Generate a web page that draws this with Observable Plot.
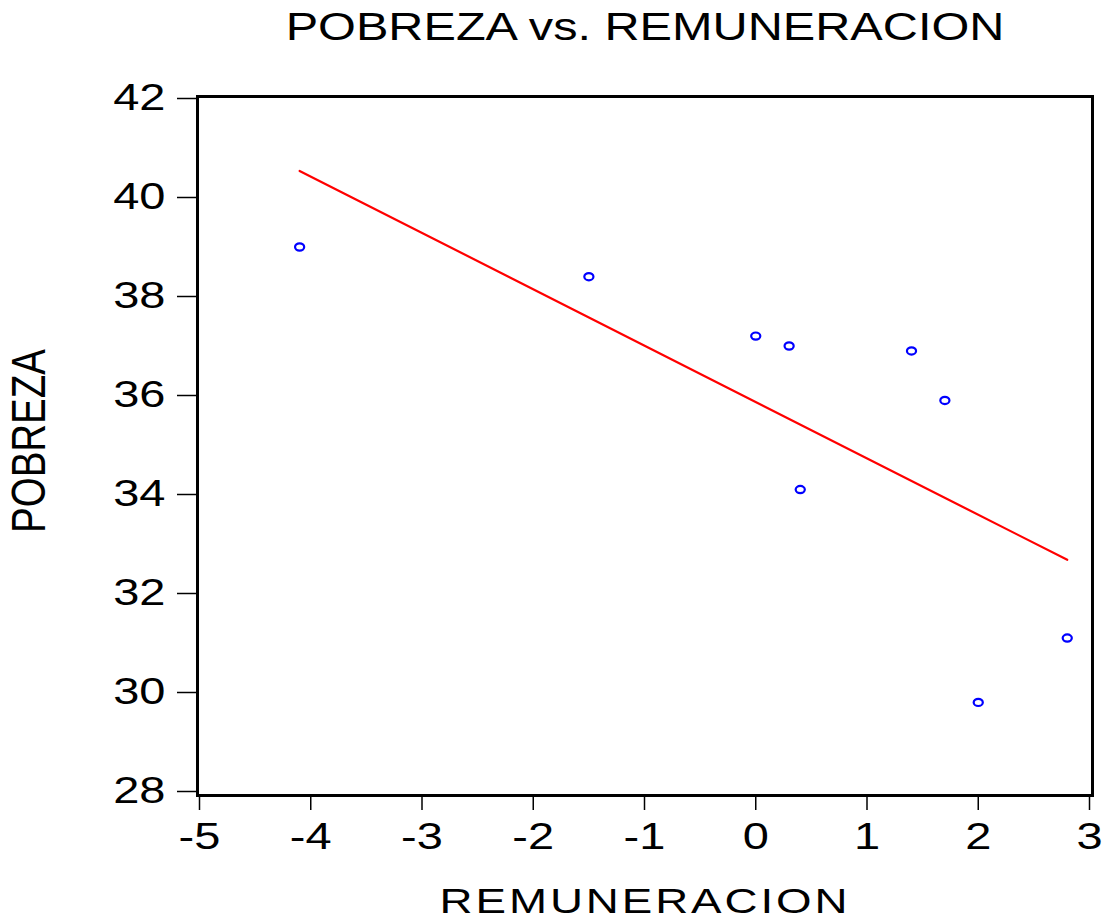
<!DOCTYPE html>
<html><head><meta charset="utf-8">
<script src="https://cdn.jsdelivr.net/npm/d3@7"></script>
<script src="https://cdn.jsdelivr.net/npm/@observablehq/plot@0.6"></script>
<style>body{margin:0;background:#fff} svg{display:block}</style>
</head><body><div id="chart"></div>
<script>
const remuneracion = [-4.1, -1.5, 0.0, 0.3, 0.4, 1.4, 1.7, 2.0, 2.8];
const pobreza = [39.0, 38.4, 37.2, 37.0, 34.1, 36.9, 35.9, 29.8, 31.1];
const xTicks = [-5, -4, -3, -2, -1, 0, 1, 2, 3];
const yTicks = [28, 30, 32, 34, 36, 38, 40, 42];
const titleText = "POBREZA vs. REMUNERACION";
const xLabel = "REMUNERACION";
const yLabel = "POBREZA";

const data = remuneracion.map((x, i) => ({x, y: pobreza[i]}));
const SX = 1.27;
const FONT = "'Liberation Sans', Arial, sans-serif";

// ellipse symbol (the reference is horizontally stretched)
const ellipse = {
  draw(context, size) {
    const r = Math.sqrt(size / Math.PI), rx = r * SX, ry = r, k = 0.5523;
    context.moveTo(rx, 0);
    context.bezierCurveTo(rx, k * ry, k * rx, ry, 0, ry);
    context.bezierCurveTo(-k * rx, ry, -rx, k * ry, -rx, 0);
    context.bezierCurveTo(-rx, -k * ry, -k * rx, -ry, 0, -ry);
    context.bezierCurveTo(k * rx, -ry, rx, -k * ry, rx, 0);
    context.closePath();
  }
};

const chart = Plot.plot({
  width: 1103, height: 920,
  marginLeft: 197, marginRight: 11, marginTop: 96, marginBottom: 125,
  style: {fontFamily: FONT, fontSize: "37px", color: "#000", background: "#fff"},
  x: {domain: [-5, 3], insetLeft: 2, insetRight: 3},
  y: {domain: [28, 42], insetTop: 2, insetBottom: 4},
  marks: [
    Plot.axisX({ticks: xTicks, tickFormat: d => String(d), tickSize: 15, tickPadding: 12, strokeWidth: 1.5, label: null, fontSize: 37}),
    Plot.axisY({ticks: yTicks, tickFormat: d => String(d), tickSize: 20, tickPadding: 12, strokeWidth: 1.5, label: null, fontSize: 37}),
    Plot.linearRegressionY(data, {x: "x", y: "y", stroke: "#ff0000", strokeWidth: 2.2, ci: 0}),
    Plot.dot(data, {x: "x", y: "y", r: 3.6, symbol: ellipse, stroke: "#0000ff", strokeWidth: 2.2, fill: "none"}),
    Plot.frame({stroke: "#000", strokeWidth: 3})
  ]
});

document.getElementById("chart").appendChild(chart);

// horizontally stretch the tick labels (reference is stretched ~1.27x)
Array.from(chart.querySelectorAll("text")).forEach(el => {
  const bb = el.getBBox();
  const anchor = getComputedStyle(el).textAnchor;
  let ax = anchor === "end" ? bb.x + bb.width : anchor === "middle" ? bb.x + bb.width / 2 : bb.x;
  let ay = bb.y + bb.height / 2;
  const tl = el.transform.baseVal;
  let px = ax, py = ay;
  if (tl.numberOfItems > 0) {
    const m = tl.consolidate().matrix;
    px = m.a * ax + m.c * ay + m.e;
    py = m.b * ax + m.d * ay + m.f;
  }
  const g = document.createElementNS("http://www.w3.org/2000/svg", "g");
  g.setAttribute("transform", `translate(${px},${py}) scale(${SX},1) translate(${-px},${-py})`);
  el.parentNode.insertBefore(g, el);
  g.appendChild(el);
});

const svg = d3.select(chart);
svg.append("text")
  .attr("transform", `translate(645,40) scale(${SX},1)`)
  .attr("text-anchor", "middle")
  .attr("font-family", FONT).attr("font-size", 38.3).attr("fill", "#000")
  .text(titleText);
svg.append("text")
  .attr("transform", `translate(645,913) scale(${SX},1)`)
  .attr("text-anchor", "middle")
  .attr("font-family", FONT).attr("font-size", 36).attr("letter-spacing", 2.3).attr("fill", "#000")
  .text(xLabel);
svg.append("text")
  .attr("transform", `translate(45,441) rotate(-90) scale(1,${SX})`)
  .attr("text-anchor", "middle")
  .attr("font-family", FONT).attr("font-size", 38.5).attr("fill", "#000")
  .text(yLabel);
</script>
</body></html>
